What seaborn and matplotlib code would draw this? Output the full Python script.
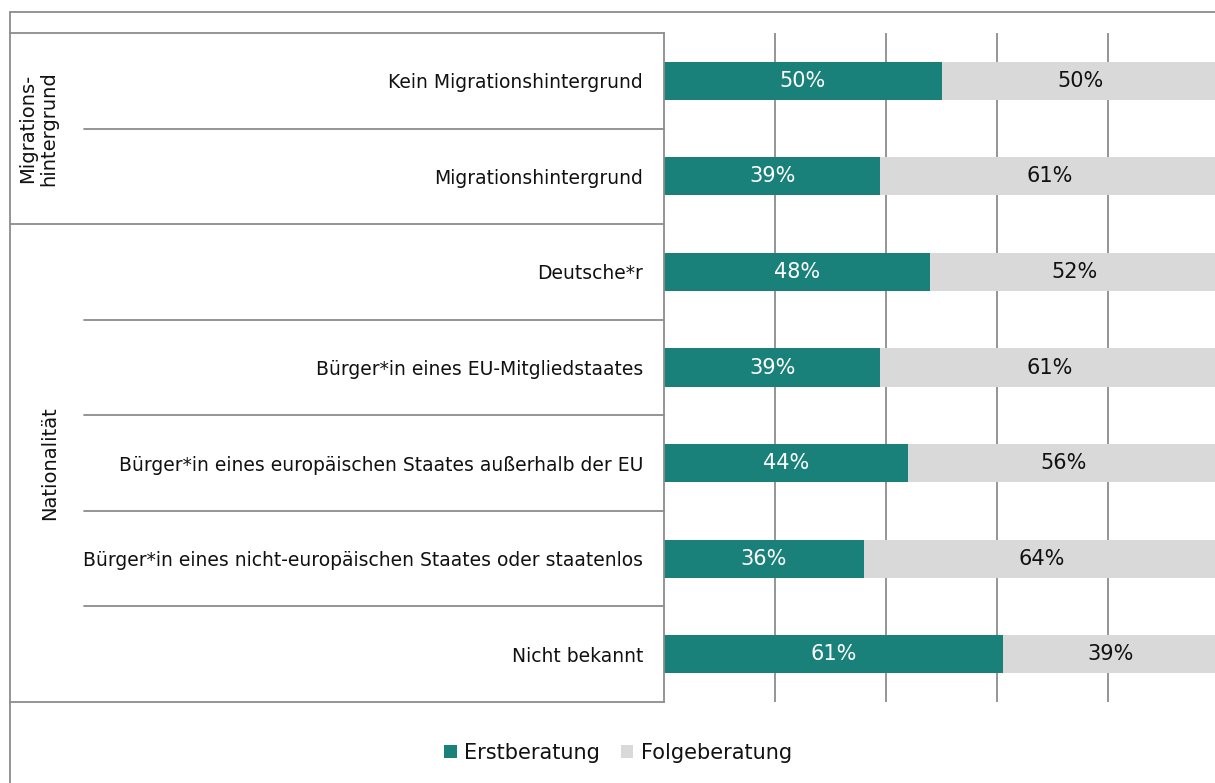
import numpy as np
import pandas as pd
import matplotlib
matplotlib.use("Agg")
import matplotlib.pyplot as plt
from matplotlib.patches import Patch
import seaborn as sns

CATEGORIES = [
    "Kein Migrationshintergrund",
    "Migrationshintergrund",
    "Deutsche*r",
    "Bürger*in eines EU-Mitgliedstaates",
    "Bürger*in eines europäischen Staates außerhalb der EU",
    "Bürger*in eines nicht-europäischen Staates oder staatenlos",
    "Nicht bekannt",
]
ERST = [50, 39, 48, 39, 44, 36, 61]
FOLGE = [50, 61, 52, 61, 56, 64, 39]
GROUPS = ["Migrations-\nhintergrund", "Nationalität"]
GROUP_SIZES = [2, 5]
SERIES = ["Erstberatung", "Folgeberatung"]

TEAL = "#1A817A"
GREY = "#D9D9D9"
LINE = "#8C8C8C"

sns.set_style("white")
plt.rcParams["font.family"] = ["DejaVu Sans"]

df = pd.DataFrame({"cat": CATEGORIES, "erst": ERST, "folge": FOLGE})
df["total"] = df["erst"] + df["folge"]

W, H = 1215, 783
fig = plt.figure(figsize=(W / 100, H / 100), dpi=100)
ax = fig.add_axes([664 / W, 1 - 702 / H, 555 / W, 669 / H])

sns.barplot(data=df, y="cat", x="total", order=CATEGORIES, color=GREY,
            orient="h", width=0.4, saturation=1, linewidth=0, ax=ax)
sns.barplot(data=df, y="cat", x="erst", order=CATEGORIES, color=TEAL,
            orient="h", width=0.4, saturation=1, linewidth=0, ax=ax)

n = len(CATEGORIES)
ax.set_xlim(0, 100)
ax.set_ylim(n - 0.5, -0.5)
ax.set_xticks([20, 40, 60, 80])
ax.set_xticklabels([])
ax.grid(axis="x", color=LINE, linewidth=1.3)
ax.grid(axis="y", visible=False)
ax.set_axisbelow(True)
ax.set_xlabel("")
ax.set_ylabel("")
for s in ["top", "right", "bottom"]:
    ax.spines[s].set_visible(False)
ax.spines["left"].set_color(LINE)
ax.spines["left"].set_linewidth(1.3)
ax.tick_params(axis="y", length=0, pad=15, labelsize=13.5, labelcolor="#111111")
ax.tick_params(axis="x", length=0)

# value labels
for i in range(n):
    ax.text(ERST[i] / 2, i, f"{ERST[i]}%", ha="center", va="center",
            color="white", fontsize=15)
    ax.text(ERST[i] + FOLGE[i] / 2, i, f"{FOLGE[i]}%", ha="center", va="center",
            color="#111111", fontsize=15)

# row separators and group frame in the label area
tr = ax.get_yaxis_transform()
x0 = (10 - 664) / 555
xs = (84 - 664) / 555
label_x = [38, 50]
start = -0.5
ax.plot([x0, 0], [-0.5, -0.5], color=LINE, lw=1.3, transform=tr, clip_on=False)
for g, size in enumerate(GROUP_SIZES):
    for k in range(1, size):
        y = start + k
        ax.plot([xs, 0], [y, y], color=LINE, lw=1.3, transform=tr, clip_on=False)
    end = start + size
    ax.plot([x0, 0], [end, end], color=LINE, lw=1.3, transform=tr, clip_on=False)
    ax.text((label_x[g] - 664) / 555, (start + end) / 2, GROUPS[g], rotation=90,
            ha="center", va="center", fontsize=14, color="#111111",
            transform=tr, linespacing=1.1)
    start = end

# outer frame
fig.add_artist(plt.Line2D([10 / W, 10 / W], [0, 1 - 12 / H], color=LINE, lw=1.3))
fig.add_artist(plt.Line2D([10 / W, 1], [1 - 12 / H, 1 - 12 / H], color=LINE, lw=1.3))

handles = [Patch(facecolor=TEAL, edgecolor="none"), Patch(facecolor=GREY, edgecolor="none")]
fig.legend(handles, SERIES, loc="center", bbox_to_anchor=(618 / W, 1 - 753 / H),
           ncol=2, frameon=False, fontsize=15, handlelength=0.6, handleheight=0.6,
           handletextpad=0.35, columnspacing=1.0, labelcolor="#111111")

fig.savefig("out.png", dpi=100)
